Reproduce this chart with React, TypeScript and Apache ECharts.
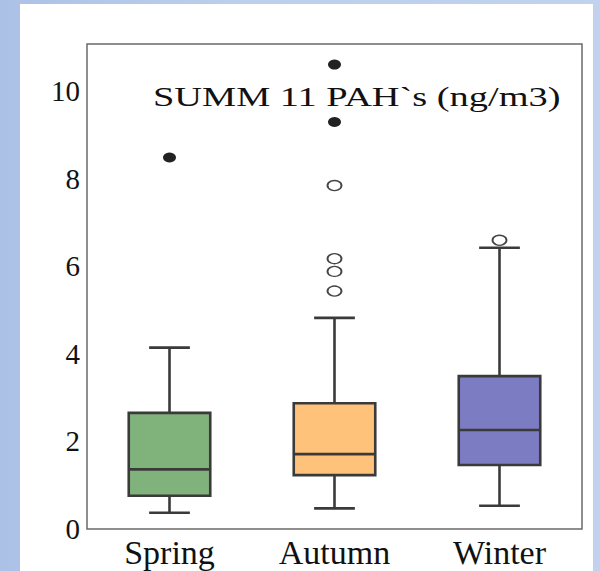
import React, { useEffect, useRef } from "react";
import * as echarts from "echarts";

// Seasonal distribution of the sum of 11 PAHs (ng/m3)
const seasons = ["Spring", "Autumn", "Winter"];
const whiskerLow = [0.37, 0.47, 0.53];
const quartile1 = [0.76, 1.23, 1.46];
const medians = [1.36, 1.71, 2.26];
const quartile3 = [2.65, 2.87, 3.49];
const whiskerHigh = [4.14, 4.82, 6.42];

// [season index, value]
const mildOutliers = [
  [1, 5.43],
  [1, 5.88],
  [1, 6.17],
  [1, 7.84],
  [2, 6.59],
];
const extremeOutliers = [
  [0, 8.48],
  [1, 9.29],
  [1, 10.6],
];

const yTicks = [0, 2, 4, 6, 8, 10];
const boxColors = ["#80b27c", "#ffc27a", "#7c7cc2"];
const chartTitle = "SUMM 11 PAH`s (ng/m3)";

const serif = "Liberation Serif";
const ink = "#3a3a3a";

export default function App() {
  const ref = useRef<HTMLDivElement>(null);

  useEffect(() => {
    if (!ref.current) return;
    const chart = echarts.init(ref.current, undefined, { renderer: "svg" });

    const boxData = seasons.map((_, i) => [
      i,
      whiskerLow[i],
      quartile1[i],
      medians[i],
      quartile3[i],
      whiskerHigh[i],
    ]);

    chart.setOption({
      animation: false,
      backgroundColor: "transparent",
      grid: {
        left: 87,
        right: 18,
        top: 44,
        bottom: 42,
        show: true,
        borderColor: "#6a6a6a",
        borderWidth: 1.5,
        backgroundColor: "transparent",
      },
      xAxis: {
        type: "category",
        data: seasons,
        axisLine: { show: false },
        axisTick: { show: false },
        splitLine: { show: false },
        axisLabel: {
          fontFamily: serif,
          fontSize: 34,
          color: "#111",
          margin: 6,
        },
      },
      yAxis: {
        type: "value",
        min: 0,
        max: 11.07,
        interval: 2,
        axisLine: { show: false },
        axisTick: { show: false },
        splitLine: { show: false },
        axisLabel: {
          fontFamily: serif,
          fontSize: 29,
          color: "#111",
          margin: 7,
          formatter: (v: number) => (yTicks.includes(v) ? String(v) : ""),
        },
      },
      graphic: [
        {
          type: "text",
          x: 153,
          y: 96,
          scaleX: 1.37,
          z: 10,
          style: {
            text: chartTitle,
            fontFamily: serif,
            fontSize: 28,
            fill: "#111",
            textAlign: "left",
            textVerticalAlign: "middle",
          },
        },
      ],
      series: [
        {
          type: "custom",
          data: boxData,
          encode: { x: 0, y: [1, 2, 3, 4, 5] },
          z: 2,
          renderItem: (params: any, api: any) => {
            const i = api.value(0);
            const low = api.coord([i, api.value(1)]);
            const q1 = api.coord([i, api.value(2)]);
            const med = api.coord([i, api.value(3)]);
            const q3 = api.coord([i, api.value(4)]);
            const high = api.coord([i, api.value(5)]);
            const band = api.size([1, 0])[0];
            const half = band * 0.247;
            const cap = half / 2;
            const x = low[0];
            const lineStyle = { stroke: ink, lineWidth: 2.6 };
            return {
              type: "group",
              children: [
                {
                  type: "line",
                  shape: { x1: x, y1: high[1], x2: x, y2: q3[1] },
                  style: lineStyle,
                },
                {
                  type: "line",
                  shape: { x1: x, y1: low[1], x2: x, y2: q1[1] },
                  style: lineStyle,
                },
                {
                  type: "line",
                  shape: { x1: x - cap, y1: high[1], x2: x + cap, y2: high[1] },
                  style: lineStyle,
                },
                {
                  type: "line",
                  shape: { x1: x - cap, y1: low[1], x2: x + cap, y2: low[1] },
                  style: lineStyle,
                },
                {
                  type: "rect",
                  shape: {
                    x: x - half,
                    y: q3[1],
                    width: half * 2,
                    height: q1[1] - q3[1],
                  },
                  style: { fill: boxColors[i], stroke: ink, lineWidth: 2.6 },
                },
                {
                  type: "line",
                  shape: { x1: x - half, y1: med[1], x2: x + half, y2: med[1] },
                  style: lineStyle,
                },
              ],
            };
          },
        },
        {
          type: "scatter",
          data: mildOutliers,
          symbol: "circle",
          symbolSize: [14, 10],
          z: 5,
          itemStyle: {
            color: "#ffffff",
            borderColor: "#444",
            borderWidth: 1.6,
            opacity: 1,
          },
        },
        {
          type: "scatter",
          data: extremeOutliers,
          symbol: "circle",
          symbolSize: [13, 10],
          z: 5,
          itemStyle: { color: "#222", opacity: 1 },
        },
      ],
    });

    return () => chart.dispose();
  }, []);

  return (
    <div
      style={{
        position: "fixed",
        left: 0,
        top: 0,
        width: 600,
        height: 571,
        background: "linear-gradient(to right, #acc1e6 0%, #bccfec 40%, #c0d2ee 100%)",
        overflow: "hidden",
      }}
    >
      <div
        style={{
          position: "absolute",
          left: 20,
          top: 4,
          width: 573,
          height: 567,
          background: "#ffffff",
        }}
      />
      <div
        ref={ref}
        style={{ position: "absolute", left: 0, top: 0, width: 600, height: 571 }}
      />
    </div>
  );
}
